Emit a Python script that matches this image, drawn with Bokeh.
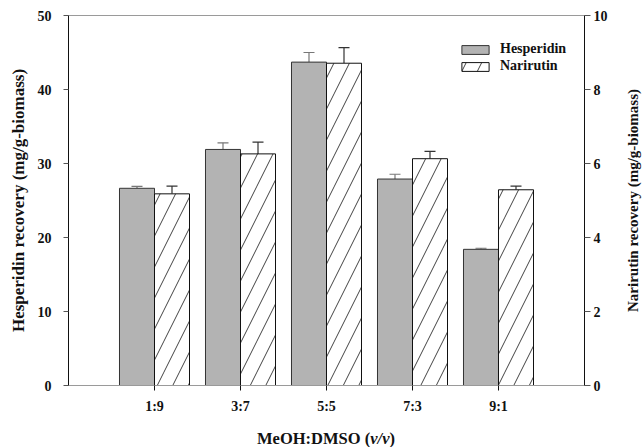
from bokeh.plotting import figure
from bokeh.layouts import column, row
from bokeh.models import (Range1d, LinearAxis, FixedTicker, Whisker, TeeHead,
                          ColumnDataSource, Legend, LegendItem, Div)
from bokeh.embed import file_html
from bokeh.resources import INLINE

ratios = ["1:9", "3:7", "5:5", "7:3", "9:1"]
positions = [1, 2, 3, 4, 5]
hesperidin = [26.65, 31.9, 43.7, 27.9, 18.4]
hesperidin_err = [0.25, 0.9, 1.3, 0.65, 0.15]
narirutin = [5.18, 6.26, 8.71, 6.13, 5.29]
narirutin_err = [0.21, 0.32, 0.42, 0.2, 0.1]

bw = 0.407
FONT = "Liberation Serif"

src = ColumnDataSource(dict(
    xh=[x - bw / 2 for x in positions],
    xn=[x + bw / 2 for x in positions],
    h=hesperidin, hup=[a + b for a, b in zip(hesperidin, hesperidin_err)],
    n=narirutin, nup=[a + b for a, b in zip(narirutin, narirutin_err)],
))

p = figure(width=610, height=430, output_backend="svg", toolbar_location=None,
           x_range=Range1d(0, 6), y_range=Range1d(0, 50),
           min_border_left=68, min_border_right=26, min_border_top=15,
           min_border_bottom=45)
p.extra_y_ranges = {"nar": Range1d(0, 10)}
p.grid.visible = False
p.outline_line_color = "#9a9a9a"
p.outline_line_width = 1
p.background_fill_color = "white"
p.border_fill_color = "white"

rh = p.vbar(x="xh", top="h", width=bw, source=src, fill_color="#b3b3b3",
            line_color="#333333", line_width=1)
rn = p.vbar(x="xn", top="n", width=bw, source=src, fill_color="white",
            line_color="#111111", line_width=1, hatch_pattern="/",
            hatch_color="#111111", hatch_scale=31, hatch_weight=0.8,
            y_range_name="nar")

wh = Whisker(source=src, base="xh", upper="hup", lower="h", dimension="height",
             line_color="#777777", line_width=1.2,
             upper_head=TeeHead(size=11, line_color="#777777", line_width=1.2),
             lower_head=None)
wn = Whisker(source=src, base="xn", upper="nup", lower="n", dimension="height",
             line_color="#333333", line_width=1.2, y_range_name="nar",
             upper_head=TeeHead(size=11, line_color="#333333", line_width=1.2),
             lower_head=None)
p.add_layout(wh)
p.add_layout(wn)

# x axis
xa = p.xaxis[0]
xa.ticker = FixedTicker(ticks=positions)
xa.major_label_overrides = {pos: lab for pos, lab in zip(positions, ratios)}
xa.axis_line_color = "#9a9a9a"
xa.major_tick_out = 5
xa.major_tick_in = 0
xa.major_tick_line_color = "#111111"
xa.minor_tick_line_color = None
xa.major_label_standoff = 8
xa.major_label_text_font = FONT
xa.major_label_text_font_style = "bold"
xa.major_label_text_font_size = "14px"
xa.major_label_text_color = "#111111"

# left axis
ya = p.yaxis[0]
ya.ticker = FixedTicker(ticks=[0, 10, 20, 30, 40, 50])
ya.axis_line_color = "#111111"
ya.major_tick_out = 5
ya.major_tick_in = 0
ya.minor_tick_line_color = None
ya.major_tick_line_color = "#555555"
ya.major_label_standoff = 12
ya.major_label_text_font = FONT
ya.major_label_text_font_style = "bold"
ya.major_label_text_font_size = "14px"
ya.major_label_text_color = "#111111"
ya.axis_label = "Hesperidin recovery (mg/g-biomass)"
ya.axis_label_text_font = FONT
ya.axis_label_text_font_style = "bold"
ya.axis_label_text_font_size = "17px"
ya.axis_label_text_color = "#111111"
ya.axis_label_standoff = 7

# right axis (its title is drawn in the Div beside the figure)
ra = LinearAxis(y_range_name="nar", ticker=FixedTicker(ticks=[0, 2, 4, 6, 8, 10]))
ra.axis_line_color = "#111111"
ra.major_tick_out = 6
ra.major_tick_in = 0
ra.minor_tick_line_color = None
ra.major_tick_line_color = "#555555"
ra.major_label_standoff = 3
ra.major_label_text_font = FONT
ra.major_label_text_font_style = "bold"
ra.major_label_text_font_size = "14px"
ra.major_label_text_color = "#111111"
p.add_layout(ra, "right")

legend = Legend(items=[LegendItem(label="Hesperidin", renderers=[rh]),
                       LegendItem(label="Narirutin", renderers=[rn])],
                location=(390, 311), padding=0, margin=0,
                glyph_width=34, glyph_height=11, label_height=11,
                spacing=1, label_standoff=8,
                label_text_font=FONT, label_text_font_style="bold",
                label_text_font_size="14px", label_text_color="#111111",
                border_line_color=None, background_fill_alpha=0)
p.add_layout(legend)

right_title = Div(
    text=('<div style="position:relative;width:34px;height:430px;">'
          '<div style="position:absolute;left:15px;top:15px;width:17px;height:370px;'
          'writing-mode:vertical-rl;transform:rotate(180deg);text-align:center;'
          'font-family:\'Liberation Serif\';font-size:15px;font-weight:bold;'
          'color:#111111;line-height:17px;white-space:nowrap;">'
          'Narirutin recovery (mg/g-biomass)</div></div>'),
    width=34, height=430, margin=0)

xtitle = Div(
    text=('<div style="margin-left:68px;width:516px;text-align:center;'
          'font-family:\'Liberation Serif\';font-size:16.5px;font-weight:bold;'
          'color:#111111;line-height:17px;white-space:nowrap;">'
          'MeOH:DMSO (<i>v/v</i>)</div>'),
    width=644, height=17, margin=0)

layout = column(row(p, right_title, spacing=0), xtitle, spacing=0)
open("out.html", "w").write(file_html(layout, INLINE))
